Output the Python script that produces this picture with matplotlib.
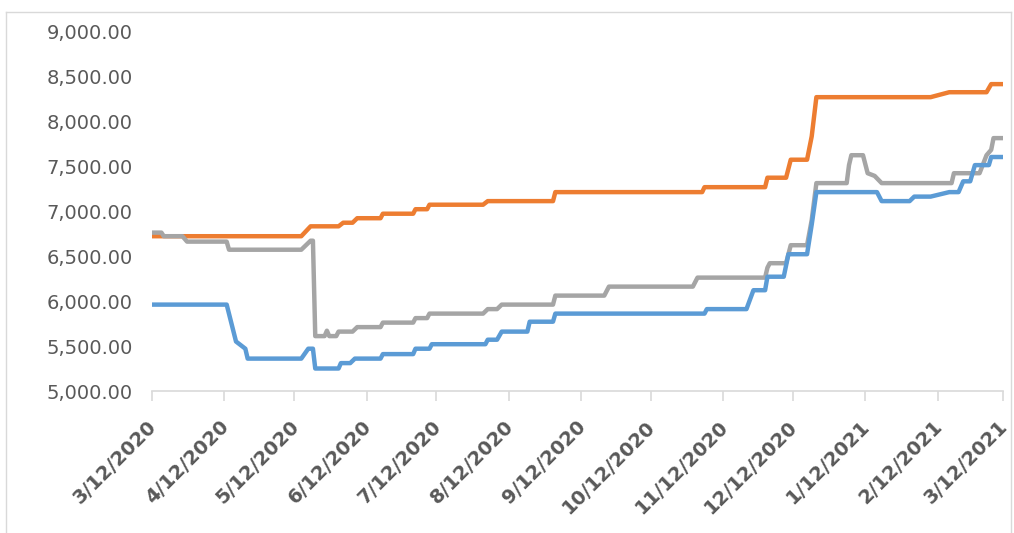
import matplotlib.pyplot as plt
import matplotlib.transforms as mtransforms
import pandas as pd
from matplotlib.lines import Line2D

# Данні (дата, значення) - вершини ламаних ліній
orange_dates = ['2020-03-12', '2020-05-15', '2020-05-19', '2020-05-31', '2020-06-02', '2020-06-06',
                '2020-06-08', '2020-06-18', '2020-06-19', '2020-07-02', '2020-07-03', '2020-07-08',
                '2020-07-09', '2020-08-01', '2020-08-03', '2020-08-31', '2020-09-01', '2020-11-03',
                '2020-11-04', '2020-11-30', '2020-12-01', '2020-12-09', '2020-12-11', '2020-12-18',
                '2020-12-20', '2020-12-22', '2021-02-09', '2021-02-17', '2021-03-05', '2021-03-07',
                '2021-03-12']
orange_values = [6720, 6720, 6830, 6830, 6870, 6870,
                 6920, 6920, 6970, 6970, 7020, 7020,
                 7070, 7070, 7110, 7110, 7210, 7210,
                 7265, 7265, 7370, 7370, 7570, 7570,
                 7830, 8265, 8265, 8320, 8320, 8410,
                 8410]

gray_dates = ['2020-03-12', '2020-03-16', '2020-03-17', '2020-03-25', '2020-03-27', '2020-04-13',
              '2020-04-14', '2020-05-15', '2020-05-19', '2020-05-20', '2020-05-21', '2020-05-25',
              '2020-05-26', '2020-05-27', '2020-05-30', '2020-05-31', '2020-06-06', '2020-06-08',
              '2020-06-18', '2020-06-19', '2020-07-02', '2020-07-03', '2020-07-08', '2020-07-09',
              '2020-08-01', '2020-08-03', '2020-08-07', '2020-08-09', '2020-08-31', '2020-09-01',
              '2020-09-22', '2020-09-24', '2020-10-30', '2020-11-01', '2020-11-30', '2020-12-01',
              '2020-12-02', '2020-12-09', '2020-12-11', '2020-12-18', '2020-12-20', '2020-12-22',
              '2021-01-04', '2021-01-05', '2021-01-06', '2021-01-11', '2021-01-13', '2021-01-16',
              '2021-01-19', '2021-02-18', '2021-02-19', '2021-03-02', '2021-03-05', '2021-03-07',
              '2021-03-08', '2021-03-12']
gray_values = [6760, 6760, 6720, 6720, 6660, 6660,
               6570, 6570, 6670, 6670, 5610, 5610,
               5670, 5610, 5610, 5660, 5660, 5710,
               5710, 5760, 5760, 5810, 5810, 5860,
               5860, 5910, 5910, 5960, 5960, 6060,
               6060, 6160, 6160, 6260, 6260, 6370,
               6420, 6420, 6620, 6620, 6900, 7310,
               7310, 7510, 7620, 7620, 7420, 7390,
               7310, 7310, 7420, 7420, 7620, 7680,
               7810, 7810]

blue_dates = ['2020-03-12', '2020-04-13', '2020-04-17', '2020-04-21', '2020-04-22', '2020-05-15',
              '2020-05-18', '2020-05-20', '2020-05-21', '2020-05-31', '2020-06-01', '2020-06-05',
              '2020-06-07', '2020-06-18', '2020-06-19', '2020-07-02', '2020-07-03', '2020-07-09',
              '2020-07-10', '2020-08-02', '2020-08-03', '2020-08-07', '2020-08-09', '2020-08-20',
              '2020-08-21', '2020-08-31', '2020-09-01', '2020-11-04', '2020-11-05', '2020-11-22',
              '2020-11-25', '2020-11-30', '2020-12-01', '2020-12-08', '2020-12-10', '2020-12-18',
              '2020-12-20', '2020-12-22', '2021-01-17', '2021-01-19', '2021-01-31', '2021-02-02',
              '2021-02-09', '2021-02-17', '2021-02-21', '2021-02-23', '2021-02-26', '2021-02-28',
              '2021-03-06', '2021-03-07', '2021-03-12']
blue_values = [5960, 5960, 5550, 5470, 5360, 5360,
               5470, 5470, 5250, 5250, 5310, 5310,
               5360, 5360, 5410, 5410, 5470, 5470,
               5520, 5520, 5570, 5570, 5660, 5660,
               5770, 5770, 5860, 5860, 5910, 5910,
               6120, 6120, 6270, 6270, 6520, 6520,
               6850, 7210, 7210, 7110, 7110, 7160,
               7160, 7210, 7210, 7330, 7330, 7510,
               7510, 7600, 7600]

tick_labels = ['3/12/2020', '4/12/2020', '5/12/2020', '6/12/2020', '7/12/2020', '8/12/2020',
               '9/12/2020', '10/12/2020', '11/12/2020', '12/12/2020', '1/12/2021', '2/12/2021',
               '3/12/2021']
tick_dates = pd.date_range('2020-03-01', periods=13, freq='MS') + pd.Timedelta(days=11)

text_color = '#595959'

fig = plt.figure(figsize=(10.14, 5.33), dpi=100)
ax = fig.add_axes([0.15, 0.2664, 0.839, 0.6754])

ax.plot(pd.to_datetime(orange_dates), orange_values, color='#ED7D31', linewidth=3.2, solid_joinstyle='round')
ax.plot(pd.to_datetime(gray_dates), gray_values, color='#A5A5A5', linewidth=3.2, solid_joinstyle='round')
ax.plot(pd.to_datetime(blue_dates), blue_values, color='#5B9BD5', linewidth=3.2, solid_joinstyle='round')

ax.set_ylim(5000, 9000)
ax.set_yticks(range(5000, 9001, 500))
ax.set_yticklabels([f'{v:,.2f}' for v in range(5000, 9001, 500)], fontsize=14, color=text_color)
ax.set_xlim(pd.Timestamp('2020-03-12'), pd.Timestamp('2021-03-12'))
ax.set_xticks(tick_dates)
ax.set_xticklabels([])

# підписи осі x (повернуті на 45°)
trans = mtransforms.blended_transform_factory(ax.transData, ax.transAxes)
offset = mtransforms.ScaledTranslation(-5 / 100, -26 / 100, fig.dpi_scale_trans)
for d, lbl in zip(tick_dates, tick_labels):
    ax.text(d, 0, lbl, transform=trans + offset, rotation=45, ha='right', va='top',
            rotation_mode='anchor', fontsize=14, color=text_color, fontweight='bold')

for s in ['top', 'right', 'left']:
    ax.spines[s].set_visible(False)
ax.spines['bottom'].set_color('#D9D9D9')
ax.spines['bottom'].set_linewidth(1.2)
ax.tick_params(axis='y', length=0, pad=14)
ax.tick_params(axis='x', length=7, color='#D9D9D9', width=1.2)

# Рамка навколо діаграми
fig.add_artist(Line2D([6 / 1014, 6 / 1014], [0, 1 - 12 / 533], color='#D9D9D9', lw=1))
fig.add_artist(Line2D([6 / 1014, 1011 / 1014], [1 - 12 / 533, 1 - 12 / 533], color='#D9D9D9', lw=1))
fig.add_artist(Line2D([1011 / 1014, 1011 / 1014], [0, 1 - 12 / 533], color='#D9D9D9', lw=1))

plt.savefig('out.png', dpi=100)
